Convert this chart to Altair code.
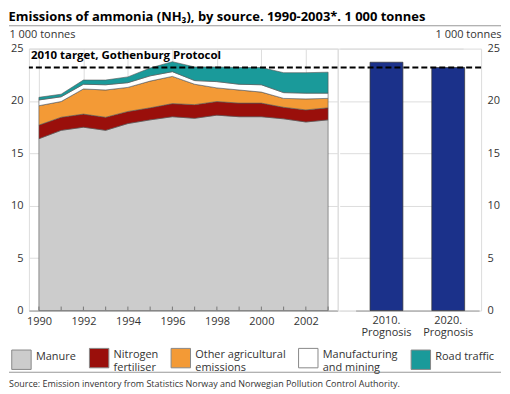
import altair as alt
import pandas as pd

years = list(range(1990, 2004))
manure = [16.4, 17.2, 17.5, 17.2, 17.85, 18.2, 18.5, 18.35, 18.65, 18.5, 18.5, 18.3, 18.0, 18.2]
nitrogen = [1.3, 1.25, 1.25, 1.25, 1.15, 1.15, 1.25, 1.3, 1.3, 1.3, 1.3, 1.1, 1.15, 1.15]
other_agri = [1.85, 1.5, 2.4, 2.6, 2.3, 2.55, 2.6, 1.95, 1.3, 1.25, 1.05, 0.85, 1.05, 0.9]
manufacturing = [0.55, 0.45, 0.45, 0.5, 0.45, 0.5, 0.45, 0.35, 0.6, 0.55, 0.7, 0.55, 0.55, 0.5]
road = [0.25, 0.25, 0.4, 0.45, 0.55, 0.75, 0.95, 1.3, 1.4, 1.6, 1.65, 1.9, 1.95, 2.0]

sources = ["Manure", "Nitrogen fertiliser", "Other agricultural emissions",
           "Manufacturing and mining", "Road traffic"]
colors = ["#cccccc", "#9a0f0b", "#f39a36", "#ffffff", "#1a9a9a"]

prognosis_labels = ["2010. Prognosis", "2020. Prognosis"]
prognosis_values = [23.7, 23.2]
target_value = 23.2
target_label = "2010 target, Gothenburg Protocol"
unit = "1 000 tonnes"
source_note = "Source: Emission inventory from Statistics Norway and Norwegian Pollution Control Authority."
title_text = "Emissions of ammonia (NH\u2083), by source. 1990-2003*. 1 000 tonnes"

FONT = "Open Sans"
TXT = "#333333"

rows = []
for series_idx, (name, vals) in enumerate(zip(sources, [manure, nitrogen, other_agri, manufacturing, road])):
    for y, v in zip(years, vals):
        rows.append({"year": y, "source": name, "value": v, "order": series_idx})
df = pd.DataFrame(rows)
ydf = pd.DataFrame({"year": years})
pdf = pd.DataFrame({"label": prognosis_labels, "value": prognosis_values})
tdf = pd.DataFrame({"target": [target_value], "text": [target_label]})
ndf = pd.DataFrame({"note": [source_note]})

H = 263
W_LEFT = 310
W_RIGHT = 144
y_scale = alt.Scale(domain=[0, 25], nice=False)
x_scale = alt.Scale(domain=[1989.55, 2003.43], nice=False, zero=False)

legend_expr = ("datum.label == 'Nitrogen fertiliser' ? ['Nitrogen', 'fertiliser'] : "
               "datum.label == 'Other agricultural emissions' ? ['Other agricultural', 'emissions'] : "
               "datum.label == 'Manufacturing and mining' ? ['Manufacturing', 'and mining'] : "
               "datum.label")

area = alt.Chart(df).mark_area(stroke="#555555", strokeWidth=0.6).encode(
    x=alt.X("year:Q", scale=x_scale,
            axis=alt.Axis(values=years, format="d",
                          labelExpr="datum.value % 2 == 0 ? datum.label : ''",
                          grid=True, gridColor="#dddddd", ticks=False,
                          domainColor="#999999", labelPadding=5, title=None)),
    y=alt.Y("value:Q", stack="zero", scale=y_scale,
            axis=alt.Axis(values=[0, 5, 10, 15, 20, 25], grid=True, gridColor="#dddddd",
                          domain=False, ticks=False, labelPadding=6,
                          title=unit, titleAngle=0, titleAlign="left", titleBaseline="alphabetic",
                          titleX=-20, titleY=-11, titleFontWeight="normal", titleFontSize=11,
                          titleColor=TXT, titleFont=FONT)),
    color=alt.Color("source:N", sort=sources,
                    scale=alt.Scale(domain=sources, range=colors),
                    legend=alt.Legend(orient="none", legendX=-18, legendY=300,
                                      direction="horizontal", columns=5, title=None,
                                      symbolType="square", symbolSize=380,
                                      symbolStrokeColor="#888888", symbolStrokeWidth=1,
                                      symbolOpacity=1,
                                      labelExpr=legend_expr, labelFontSize=11,
                                      labelBaseline="alphabetic",
                                      labelColor=TXT, labelFont=FONT,
                                      columnPadding=10, labelOffset=4)),
    order=alt.Order("order:Q"),
)

year_ticks = alt.Chart(ydf).mark_rule(color="#777777", strokeWidth=1).encode(
    x=alt.X("year:Q", scale=x_scale), y=alt.value(H - 4), y2=alt.value(H)
)

target_rule = alt.Chart(tdf).mark_rule(color="black", strokeWidth=2, strokeDash=[6, 3]).encode(
    y=alt.Y("target:Q", scale=y_scale)
)

target_text = alt.Chart(tdf).mark_text(align="left", baseline="alphabetic", fontWeight="bold",
                                       fontSize=11.5, font=FONT, color="black").encode(
    x=alt.value(2), y=alt.value(10), text="text:N"
)

top_line = alt.Chart(tdf).mark_rect(color="#999999").encode(
    x=alt.value(-20), x2=alt.value(474), y=alt.value(-23.5), y2=alt.value(-22.5)
)
bottom_line = alt.Chart(tdf).mark_rect(color="#999999").encode(
    x=alt.value(-20), x2=alt.value(474), y=alt.value(324.5), y2=alt.value(325.5)
)
note = alt.Chart(ndf).mark_text(align="left", baseline="alphabetic", fontSize=9,
                                font=FONT, color=TXT).encode(
    x=alt.value(-20), y=alt.value(340), text="note:N"
)

left = alt.layer(area, year_ticks, target_rule, target_text, top_line, bottom_line, note).properties(
    width=W_LEFT, height=H
)

bars = alt.Chart(pdf).mark_bar(color="#1b318a", stroke="#333333", strokeWidth=0.7).encode(
    x=alt.X("label:N", sort=prognosis_labels,
            scale=alt.Scale(domain=prognosis_labels, range=[18, 142],
                            paddingInner=0.468, paddingOuter=0.234),
            axis=alt.Axis(labelExpr="split(datum.label, ' ')", labelAngle=0, ticks=False,
                          labelLineHeight=12,
                          domainColor="#999999", labelPadding=4, title=None)),
    y=alt.Y("value:Q", scale=y_scale,
            axis=alt.Axis(orient="right", values=[0, 5, 10, 15, 20, 25], grid=True,
                          gridColor="#dddddd", domain=False, ticks=False, labelPadding=6,
                          title=unit, titleAngle=0, titleAlign="right", titleBaseline="alphabetic",
                          titleX=20, titleY=-11, titleFontWeight="normal", titleFontSize=11,
                          titleColor=TXT, titleFont=FONT)),
)

right = alt.layer(bars, target_rule).properties(width=W_RIGHT, height=H)

chart = alt.hconcat(left, right, spacing=0, bounds="flush").resolve_scale(
    y="independent"
).properties(
    title=alt.TitleParams(title_text, anchor="start", fontSize=13, font=FONT,
                          fontWeight="bold", color="black", offset=1),
    padding={"top": 2, "left": 0, "right": 0, "bottom": 0},
).configure_view(stroke="#dddddd").configure_axis(
    labelFont=FONT, labelFontSize=11, labelColor=TXT
)

chart.save("out.html", embed_options={"renderer": "svg", "actions": False})
